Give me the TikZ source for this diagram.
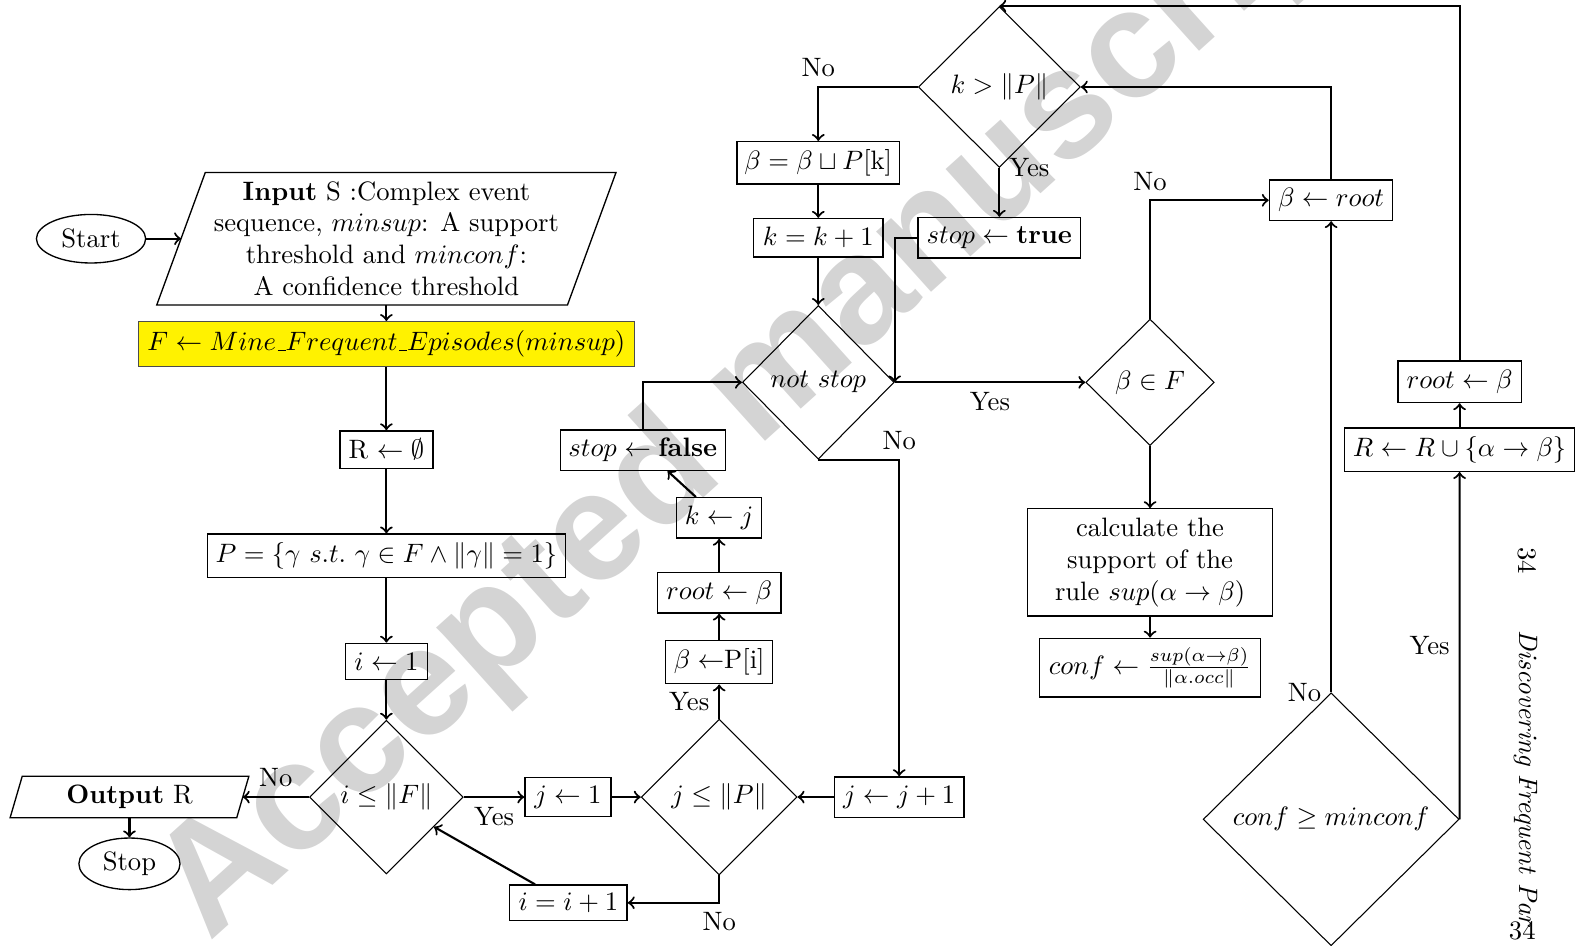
\documentclass[tikz,border=0pt]{standalone}
\usepackage{fontspec}
\newfontfamily\wmfont{Liberation Sans}
\usetikzlibrary{shapes.geometric,calc}
\def\PX{0.38pt}
\newcommand\usc{\leavevmode\kern.06em\vbox{\hrule width.3em}}
\tikzset{
  wh/.style 2 args={minimum width=#1*\PX, minimum height=#2*\PX},
  box/.style={draw, line width=0.5pt, rectangle, inner sep=0pt, align=center},
  dia/.style={draw, line width=0.4pt, diamond, inner sep=0pt, aspect=1},
  term/.style={draw, line width=0.5pt, ellipse, inner sep=0pt},
  plain/.style={inner sep=0pt, align=center},
  arr/.style={->, thick},
  lbl/.style={inner sep=3.33pt},
}
\begin{document}
\begin{tikzpicture}[x=0.38pt, y=-0.38pt]
\useasboundingbox (0,0) rectangle (1568,935);
\clip (0,0) rectangle (1568,935);
% watermark
\node[rotate=42, anchor=base west, inner sep=0pt, text=black!17, font=\wmfont\bfseries\fontsize{58}{58}\selectfont] (wm) at (207,932) {Accepted manuscript};
% page header (rotated page)
\node[rotate=-90] (pn) at (1510,554) {34};
\node[rotate=-90, anchor=west, inner sep=0pt] (hd) at (1509,623) {\textit{Discovering Frequent Par}};
\node (pn2) at (1505,920) {34};

% left column
\node[term, wh={108}{48}] (start) at (90,236) {Start};
\node[plain, wh={405}{130}] (in) at (382,236) {\textbf{Input} S :Complex event\\ sequence, $minsup$: A support\\ threshold and $minconf$:\\ A confidence threshold};
\draw[line width=0.5pt] ($(in.north west)+(24,0)$) -- ($(in.north east)+(24,0)$) -- ($(in.south east)+(-24,0)$) -- ($(in.south west)+(-24,0)$) -- cycle;
\node[box, fill=yellow, draw=black!70, wh={490}{44}] (F) at (382,340) {$F \leftarrow Mine\usc Frequent\usc Episodes(minsup)$};
\node[box, wh={92}{37}] (R) at (382,444.5) {R $\leftarrow \emptyset$};
\node[box, wh={354}{43}] (P) at (382,549.5) {$P=\{\gamma\ s.t.\ \gamma\in F\wedge\|\gamma\|=1\}$};
\node[box, wh={81}{36}] (i1) at (382,654) {$i\leftarrow 1$};
\node[dia, wh={152}{152}] (iF) at (382,788) {$i\le\|F\|$};
\node[plain, wh={223}{40}] (out) at (128,788) {\textbf{Output} R};
\draw[line width=0.5pt] ($(out.north west)+(6,0)$) -- ($(out.north east)+(6,0)$) -- ($(out.south east)+(-6,0)$) -- ($(out.south west)+(-6,0)$) -- cycle;
\node[term, wh={100}{51}] (stop) at (128,854) {Stop};

% middle
\node[box, wh={85}{39}] (j1) at (561.5,788) {$j\leftarrow 1$};
\node[dia, wh={154}{154}] (jP) at (711,788) {$j\le\|P\|$};
\node[box, wh={116}{35}] (ii) at (562,892.5) {$i=i+1$};
\node[box, wh={106}{43}] (bP) at (711,654.5) {$\beta\leftarrow$P[i]};
\node[box, wh={122}{40}] (rb) at (711,586) {$root\leftarrow\beta$};
\node[box, wh={84}{40}] (kj) at (711,512) {$k\leftarrow j$};
\node[box, wh={163}{40}] (sf) at (635.5,445) {$stop\leftarrow\textbf{false}$};
\node[dia, wh={150}{152}] (ns) at (809,378) {$not\ stop$};
\node[box, wh={128}{40}] (jj) at (889,788) {$j\leftarrow j+1$};
\node[dia, wh={160}{159}] (kP) at (988,86) {$k>\|P\|$};
\node[box, wh={161}{42}] (bb) at (809,161) {$\beta=\beta\sqcup P$[k]};
\node[box, wh={128}{38}] (kk) at (809,235) {$k=k+1$};
\node[box, wh={161}{40}] (st) at (988,235) {$stop\leftarrow\textbf{true}$};

% right
\node[dia, wh={127}{125}] (bF) at (1137,378) {$\beta\in F$};
\node[box, wh={242}{106}] (calc) at (1137,556) {calculate the\\support of the\\rule $sup(\alpha\to\beta)$};
\node[box, wh={218}{58}] (conf) at (1137,660) {$conf\leftarrow\frac{sup(\alpha\to\beta)}{\|\alpha.occ\|}$};
\node[dia, wh={253}{250}] (cm) at (1316,810) {$conf\ge minconf$};
\node[box, wh={122}{40}] (br) at (1316,198) {$\beta\leftarrow root$};
\node[box, wh={227}{43}] (RR) at (1443,444.5) {$R\leftarrow R\cup\{\alpha\to\beta\}$};
\node[box, wh={122}{41}] (rr) at (1443,377.5) {$root\leftarrow\beta$};

% connectors
\draw[arr] (start.east) -- (in.west);
\draw[arr] (in.south) -- (F.north);
\draw[arr] (F.south) -- (R.north);
\draw[arr] (R.south) -- (P.north);
\draw[arr] (P.south) -- (i1.north);
\draw[arr] (i1.south) -- (iF.north);
\draw[arr] (iF.west) -- node[lbl, above] {No} (out.east);
\draw[arr] (out.south) -- (stop.north);
\draw[arr] (iF.east) -- node[lbl, below] {Yes} (j1.west);
\draw[arr] (j1.east) -- (jP.west);
\draw[arr] (jP.south) |- node[lbl, pos=0.5, below] {No} (ii.east);
\draw[arr] ($(ii.north)+(-33,0)$) -- (iF.-32);
\draw[arr] (jP.north) -- node[lbl, left] {Yes} (bP.south);
\draw[arr] (bP.north) -- (rb.south);
\draw[arr] (rb.north) -- (kj.south);
\draw[arr] ($(kj.north)+(-23,0)$) -- ($(sf.south)+(24.5,0)$);
\draw[arr] (sf.north) |- (ns.west);
\draw[arr] (ns.south) -| node[lbl, pos=0.5, above] {No} (jj.north);
\draw[arr] (jj.west) -- (jP.east);
\draw[arr] (ns.east) -- node[lbl, below] {Yes} (bF.west);
\draw[arr] (bF.south) -- (calc.north);
\draw[arr] (calc.south) -- (conf.north);
\draw[arr] (bF.north) |- node[lbl, pos=0.5, above] {No} (br.west);
\draw[arr] (br.north) |- (kP.east);
\draw[arr] (kP.west) -| node[lbl, pos=0.5, above] {No} (bb.north);
\draw[arr] (bb.south) -- (kk.north);
\draw[arr] (kk.south) -- (ns.north);
\draw[arr] (kP.south) -- node[lbl, pos=0, right] {Yes} (st.north);
\draw[arr] (st.west) -| (ns.east);
\draw[arr] (cm.north) -- node[lbl, pos=0, left] {No} (br.south);
\draw[arr] (cm.east) -- node[lbl, midway, left] {Yes} (RR.south);
\draw[arr] (RR.north) -- (rr.south);
\draw[arr] (rr.north) |- (kP.north);
\end{tikzpicture}
\end{document}
